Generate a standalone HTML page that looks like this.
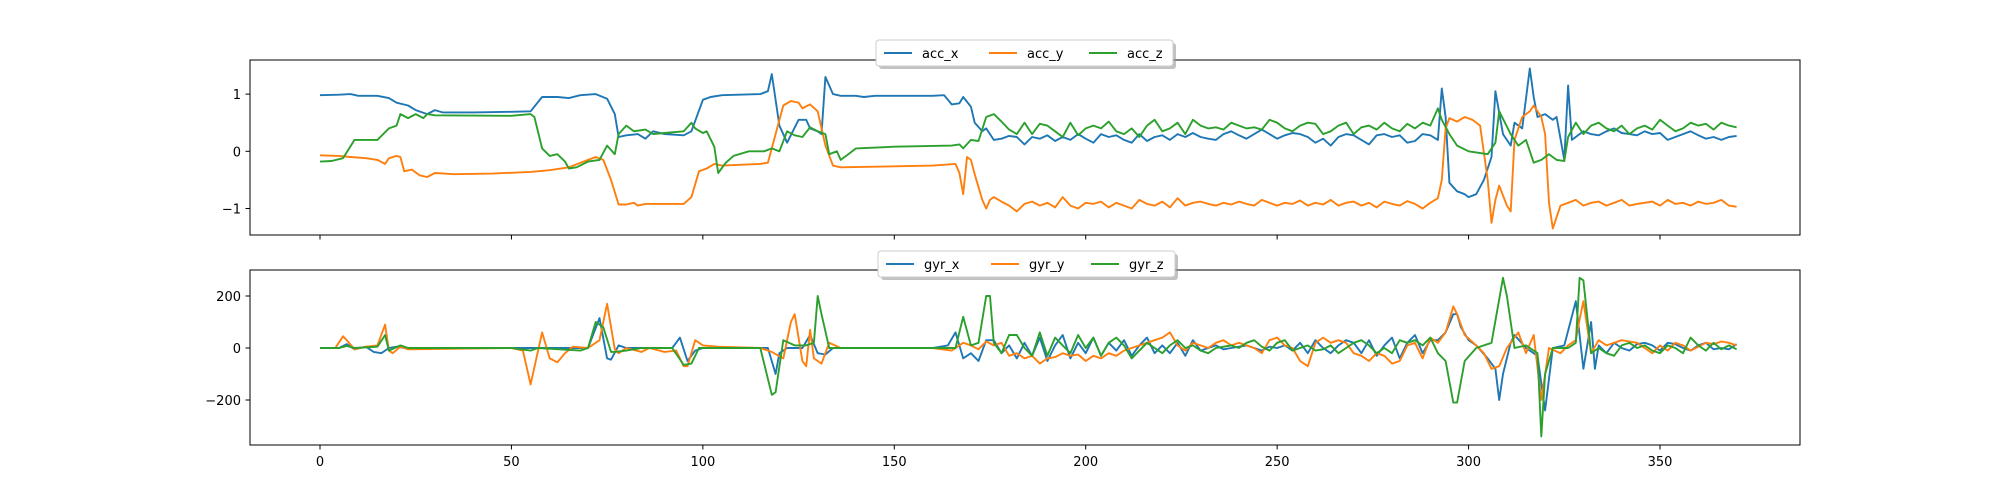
<!DOCTYPE html>
<html><head><meta charset="utf-8"><style>
body{margin:0;background:#fff;}
svg{display:block;font-family:"DejaVu Sans","Liberation Sans",sans-serif;}
</style></head><body>
<svg id="chart" width="2000" height="500" viewBox="0 0 2000 500" xmlns="http://www.w3.org/2000/svg"></svg>
<script>
// ---- data ----
const xTicks = [0,50,100,150,200,250,300,350];
const accTicks = [-1,0,1];
const gyrTicks = [-200,0,200];
const accNames = ["acc_x","acc_y","acc_z"];
const gyrNames = ["gyr_x","gyr_y","gyr_z"];
const colors = ["#1f77b4","#ff7f0e","#2ca02c"];

const accXA = [[0,0.98],[5,0.99],[8,1.0],[10,0.97],[15,0.97],[18,0.93],[20,0.85],[23,0.8],[25,0.72],[28,0.65],[30,0.72],[32,0.68],[40,0.68],[50,0.69],[55,0.7],[58,0.95],[62,0.95],[65,0.93],[68,0.98],[72,1.0],[75,0.92],[77,0.65],[78,0.25],[80,0.28],[83,0.3],[85,0.22],[87,0.35],[90,0.3],[95,0.28],[97,0.35],[100,0.9],[102,0.95],[105,0.98],[115,1.0],[117,1.05],[118,1.35],[120,0.45],[122,0.15],[125,0.55],[127,0.55],[128,0.4],[130,0.35],[131,0.3],[132,1.3],[134,1.0],[136,0.97],[140,0.97],[142,0.95],[145,0.97],[160,0.97],[163,0.98],[165,0.82],[167,0.84],[168,0.95],[170,0.78],[171,0.5],[173,0.35],[174,0.4],[176,0.2],[178,0.22]];
const accXD = [0.27,0.25,0.12,0.25,0.22,0.28,0.18,0.25,0.2,0.3,0.22,0.15,0.3,0.25,0.28,0.2,0.15,0.3,0.18,0.25,0.28,0.2,0.3,0.25,0.32,0.25,0.22,0.2,0.3,0.35,0.28,0.22,0.3,0.38,0.3,0.22,0.28,0.32,0.3,0.25,0.15,0.22,0.1,0.25,0.3,0.28,0.2,0.12,0.28,0.3,0.25,0.28,0.15,0.18,0.3,0.28];
const accXB = [[292,0.2],[293,1.1],[294,0.6],[295,-0.55],[297,-0.7],[299,-0.75],[300,-0.8],[302,-0.75],[304,-0.5],[306,-0.1],[307,1.05],[309,0.3],[311,0.1],[312,0.5],[314,0.4],[316,1.45],[317,0.95],[318,0.6],[320,0.65],[322,0.55],[323,0.6],[325,-0.15],[326,1.15],[327,0.2]];
const accXE = [0.35,0.3,0.28,0.35,0.4,0.32,0.3,0.28,0.35,0.3,0.32,0.2,0.25,0.3,0.35,0.28,0.22,0.25,0.2,0.25,0.27];

const accYA = [[0,-0.07],[5,-0.08],[8,-0.1],[12,-0.12],[15,-0.15],[17,-0.22],[18,-0.12],[20,-0.08],[21,-0.1],[22,-0.35],[24,-0.32],[26,-0.42],[28,-0.45],[30,-0.38],[35,-0.4],[45,-0.39],[55,-0.36],[60,-0.33],[65,-0.28],[70,-0.15],[72,-0.1],[74,-0.15],[76,-0.5],[78,-0.93],[80,-0.93],[82,-0.9],[83,-0.95],[85,-0.92],[95,-0.92],[97,-0.8],[99,-0.35],[101,-0.3],[103,-0.22],[105,-0.25],[115,-0.22],[117,-0.2],[119,0.3],[121,0.8],[123,0.88],[125,0.85],[126,0.75],[128,0.82],[130,0.7],[132,0.1],[134,-0.25],[136,-0.28],[145,-0.27],[160,-0.25],[166,-0.22],[167,-0.38],[168,-0.75],[169,-0.1],[170,-0.15],[171,-0.4],[173,-0.85],[174,-1.0],[175,-0.85],[176,-0.8],[178,-0.88]];
const accYD = [-0.95,-1.05,-0.92,-0.88,-0.95,-0.9,-0.98,-0.8,-0.95,-1.0,-0.9,-0.92,-0.88,-0.98,-0.9,-0.95,-1.0,-0.85,-0.92,-0.95,-0.88,-0.98,-0.82,-0.95,-0.9,-0.88,-0.92,-0.95,-0.9,-0.93,-0.88,-0.92,-0.95,-0.85,-0.9,-0.95,-0.9,-0.92,-0.86,-0.95,-0.9,-0.93,-0.85,-0.95,-0.9,-0.88,-0.95,-0.9,-0.98,-0.88,-0.92,-0.95,-0.87,-0.92,-1.0,-0.9];
const accYB = [[292,-0.82],[293,-0.5],[294,0.4],[295,0.58],[297,0.52],[299,0.6],[301,0.55],[303,0.45],[305,-0.5],[306,-1.25],[307,-0.85],[308,-0.6],[310,-0.95],[311,-1.05],[312,0.2],[314,0.6],[316,0.7],[317,0.8],[319,0.6],[320,0.3],[321,-0.9],[322,-1.35]];
const accYE = [-0.95,-0.9,-0.85,-0.95,-0.9,-0.88,-0.95,-0.9,-0.85,-0.95,-0.92,-0.9,-0.88,-0.95,-0.85,-0.92,-0.9,-0.95,-0.88,-0.92,-0.9,-0.85,-0.95,-0.97];

const accZA = [[0,-0.18],[3,-0.17],[6,-0.12],[9,0.2],[15,0.2],[18,0.4],[20,0.45],[21,0.65],[23,0.58],[25,0.65],[27,0.58],[28,0.65],[30,0.63],[50,0.62],[55,0.65],[56,0.6],[58,0.05],[60,-0.08],[62,-0.05],[64,-0.18],[65,-0.3],[67,-0.28],[70,-0.18],[73,-0.15],[75,0.1],[77,-0.05],[78,0.3],[80,0.45],[82,0.35],[85,0.38],[87,0.3],[90,0.32],[95,0.35],[97,0.5],[98,0.4],[100,0.32],[101,0.35],[103,0.08],[104,-0.38],[106,-0.2],[108,-0.08],[112,0.0],[116,0.0],[118,0.05],[120,0.0],[122,0.35],[124,0.28],[126,0.25],[128,0.42],[130,0.35],[132,0.3],[133,-0.05],[135,0.0],[136,-0.15],[138,-0.05],[140,0.05],[150,0.08],[165,0.1],[167,0.12],[168,0.05],[170,0.2],[172,0.18],[174,0.6],[176,0.65],[178,0.52]];
const accZD = [0.38,0.3,0.5,0.3,0.48,0.45,0.35,0.25,0.5,0.28,0.4,0.45,0.4,0.52,0.35,0.3,0.4,0.25,0.45,0.55,0.35,0.4,0.5,0.3,0.55,0.45,0.4,0.42,0.38,0.5,0.45,0.4,0.42,0.38,0.55,0.5,0.4,0.35,0.45,0.5,0.48,0.3,0.35,0.45,0.5,0.3,0.42,0.45,0.38,0.5,0.4,0.35,0.48,0.4,0.5,0.45];
const accZB = [[292,0.75],[293,0.55],[295,0.3],[297,0.1],[300,0.0],[305,-0.05],[307,0.15],[308,0.7],[311,0.3],[313,0.1],[315,0.2],[317,-0.2],[319,-0.15],[321,-0.05],[323,-0.15],[325,-0.17],[326,0.25]];
const accZE = [0.5,0.3,0.45,0.5,0.4,0.35,0.45,0.3,0.4,0.45,0.38,0.55,0.45,0.35,0.4,0.5,0.45,0.48,0.38,0.5,0.45,0.42];

const gyrXA = [[0,0],[5,0],[7,15],[9,-5],[12,5],[14,-15],[16,-20],[18,0],[20,5],[22,0],[50,0],[70,0],[73,115],[75,-40],[76,-45],[78,10],[80,0],[92,0],[93,20],[94,40],[96,-50],[98,-10],[100,0],[117,0],[119,-100],[120,-20],[122,0],[126,0],[128,50],[130,-20],[132,-25],[134,0],[160,0],[164,10],[166,60],[168,-40],[170,-20],[172,-50],[174,30]];
const gyrXD = [30,-20,10,-40,20,-30,40,-50,10,50,-40,20,-20,40,-30,20,-10,30,-30,10,40,-20,10,-20,20,-30,30,-10,0,10,-5,0,5,10,0,-10,5,0,10,-10,20,-20,30,0,-20,10,30,20,-20,30,-30,10,40,-40,20,50,-20,30];
const gyrXB = [[292,30],[294,60],[296,130],[297,130],[298,80],[300,30],[302,10],[305,-40],[307,-80],[308,-200],[309,-100],[311,20],[312,50],[315,0],[318,-30],[320,-240],[322,0],[325,10],[328,180],[330,-80],[332,100],[333,-80]];
const gyrXE = [10,-20,20,0,-10,15,20,10,-10,20,15,0,-10,10,20,-5,0,-5,15];

const gyrYA = [[0,0],[4,0],[6,45],[7,30],[9,-5],[12,5],[15,10],[17,90],[18,-10],[19,-20],[21,5],[23,-5],[50,0],[53,-10],[55,-140],[58,60],[60,-40],[62,-55],[64,-20],[66,5],[70,0],[73,30],[75,170],[77,-5],[78,-20],[80,0],[84,-15],[86,0],[90,-15],[93,-10],[95,-70],[96,-70],[98,30],[100,10],[104,5],[115,0],[118,-15],[121,-40],[123,100],[124,130],[126,-50],[127,-70],[128,70],[129,-40],[131,-60],[133,20],[136,0],[160,0],[165,-10],[168,20],[170,10],[172,-5],[174,25]];
const gyrYD = [10,20,-30,-20,-40,-30,-60,-40,-35,-20,-30,-25,-50,-30,-40,-20,-30,-10,0,10,20,30,40,60,10,-10,20,10,0,20,30,10,20,10,0,-20,30,40,10,0,-50,-70,20,40,20,30,20,-20,-30,-50,-20,-30,-60,-50,10,20,-40,40];
const gyrYB = [[292,20],[294,60],[296,160],[297,130],[299,50],[302,10],[304,-20],[306,-80],[308,-70],[310,0],[313,60],[315,-20],[317,50],[319,-200],[321,0],[324,-20],[326,10],[328,30],[329,110],[330,180],[332,-20]];
const gyrYE = [30,10,20,30,25,20,0,-20,10,-10,20,10,-10,5,20,15,25,20,10];

const gyrZA = [[0,0],[5,0],[7,8],[9,0],[15,5],[17,50],[18,-10],[21,10],[23,0],[50,0],[55,-10],[57,0],[68,-10],[70,0],[72,100],[74,80],[76,-15],[77,-15],[80,-10],[84,0],[92,0],[95,-65],[97,-60],[99,0],[115,0],[118,-180],[119,-170],[121,30],[124,10],[127,10],[129,20],[130,200],[131,130],[133,0],[166,0],[168,120],[170,10],[172,20],[174,200],[175,200],[176,20]];
const gyrZD = [20,-20,50,50,0,-30,60,-30,40,10,-20,50,0,40,-30,20,40,10,-40,-10,20,0,-20,10,30,0,10,-10,-20,0,5,10,0,20,30,5,-10,20,30,-10,0,10,-10,-5,10,-20,0,20,30,10,-20,0,-20,30,20,30,10,40];
const gyrZB = [[292,-20],[294,-50],[296,-210],[297,-210],[299,-50],[302,0],[306,20],[309,270],[310,200],[312,0],[315,10],[318,-20],[319,-340],[320,-100],[322,0],[326,0],[328,20],[329,270],[330,260],[332,-20]];
const gyrZE = [0,-20,-30,10,20,0,10,-10,-20,10,0,-20,40,10,-10,20,-5,10,-5];

const denseStart = 180, denseStep = 2, endStartAcc = [330,324,328], gyrDenseStart = 176, gyrEndStart = 334;

function dense(start, arr){ return arr.map((v,i)=>[start+i*denseStep, v]); }
const accSeries = [
  accXA.concat(dense(denseStart,accXD), accXB, dense(endStartAcc[0],accXE)),
  accYA.concat(dense(denseStart,accYD), accYB, dense(endStartAcc[1],accYE)),
  accZA.concat(dense(denseStart,accZD), accZB, dense(endStartAcc[2],accZE))
];
const gyrSeries = [
  gyrXA.concat(dense(gyrDenseStart,gyrXD), gyrXB, dense(gyrEndStart,gyrXE)),
  gyrYA.concat(dense(gyrDenseStart,gyrYD), gyrYB, dense(gyrEndStart,gyrYE)),
  gyrZA.concat(dense(gyrDenseStart,gyrZD), gyrZB, dense(gyrEndStart,gyrZE))
];

// ---- drawing ----
const NS = "http://www.w3.org/2000/svg";
const svg = document.getElementById("chart");
function mk(tag, attrs, parent){ const e=document.createElementNS(NS,tag); for(const k in attrs) e.setAttribute(k,attrs[k]); (parent||svg).appendChild(e); return e; }

const L=250, R=1800;
const xScale = x => 320 + x*(1660-320)/350;

function panel(top, bottom, y0px, yPerUnit, ticks, series, names, legendBox, key, showXLabels){
  const yScale = v => y0px - v*yPerUnit;
  const g = mk("g",{});
  
  
  const clipId = "clip-"+key;
  const cp = mk("clipPath",{id:clipId},g);
  mk("rect",{x:L,y:top,width:R-L,height:bottom-top},cp);
  const lines = mk("g",{"clip-path":"url(#"+clipId+")"},g);
  series.forEach((s,i)=>{
    const pts = s.slice().sort((a,b)=>a[0]-b[0]).map(p=>xScale(p[0]).toFixed(1)+","+yScale(p[1]).toFixed(1)).join(" ");
    const pl = mk("polyline",{points:pts,fill:"none",stroke:colors[i],"stroke-width":1.9,"stroke-linejoin":"round"},lines);
    
    
  });
  const frame = mk("rect",{x:L,y:top,width:R-L,height:bottom-top,fill:"none",stroke:"#000","stroke-width":1},g);
  
  
  ticks.forEach(t=>{
    const y=yScale(t);
    mk("line",{x1:L-4.5,x2:L,y1:y,y2:y,stroke:"#000","stroke-width":1},g);
    const tx = mk("text",{x:L-9,y:y+5,"text-anchor":"end","font-size":13,fill:"#000"},g);
    tx.textContent = t<0 ? "\u2212"+Math.abs(t) : String(t);
    
    
  });
  xTicks.forEach(t=>{
    const x=xScale(t);
    mk("line",{x1:x,x2:x,y1:bottom,y2:bottom+4.5,stroke:"#000","stroke-width":1},g);
    if(showXLabels){
      const tx = mk("text",{x:x,y:bottom+21,"text-anchor":"middle","font-size":13,fill:"#000"},g);
      tx.textContent = String(t);
      
      
    }
  });
  const lg = mk("g",{},g);
  
  
  mk("rect",{x:legendBox[0]+3,y:legendBox[1]+3,width:legendBox[2],height:legendBox[3],rx:3,fill:"#999",opacity:0.6},lg);
  mk("rect",{x:legendBox[0],y:legendBox[1],width:legendBox[2],height:legendBox[3],rx:3,fill:"#fff",stroke:"#ccc","stroke-width":1},lg);
  const offs=[0,105,205];
  names.forEach((n,i)=>{
    const lx = legendBox[0]+8+offs[i], ly = legendBox[1]+legendBox[3]/2;
    const e = mk("g",{},lg);
    
    
    mk("line",{x1:lx,x2:lx+28,y1:ly,y2:ly,stroke:colors[i],"stroke-width":2},e);
    const t = mk("text",{x:lx+38,y:ly+5,"font-size":13,fill:"#000"},e);
    t.textContent = n;
  });
}

panel(60, 235, 151.3, 57.2, accTicks, accSeries, accNames, [876,40,297,26], "acc", false);
panel(270, 445, 348, 0.26, gyrTicks, gyrSeries, gyrNames, [878,251,297,26], "gyr", true);
</script>
</body></html>
